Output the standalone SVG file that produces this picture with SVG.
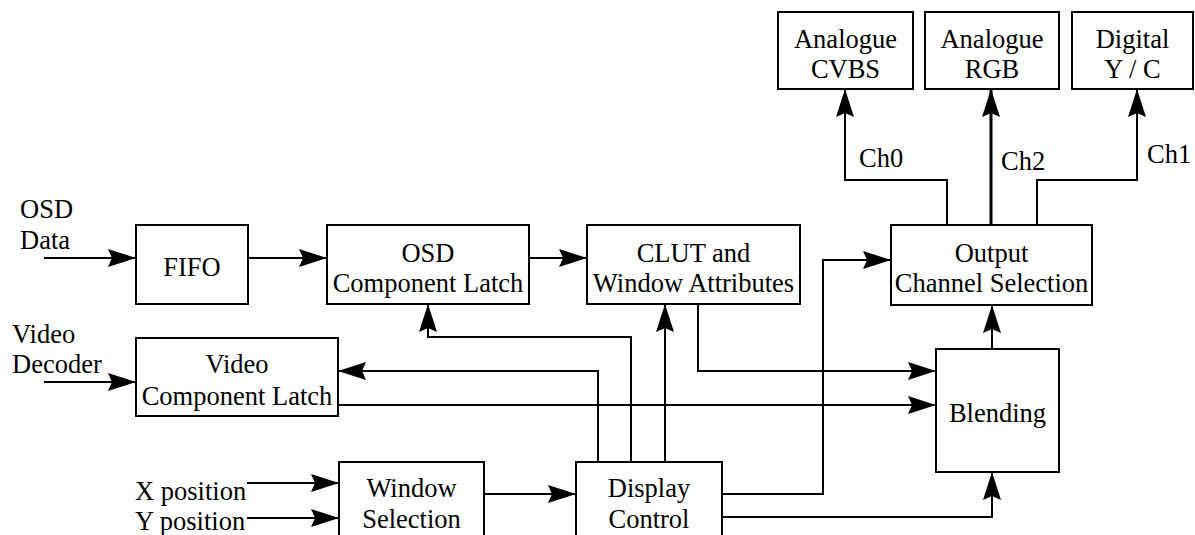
<svg xmlns="http://www.w3.org/2000/svg" width="1195" height="535" viewBox="0 0 1195 535">
  <defs>
    <marker id="arrow" viewBox="-29 -10 29 20" markerWidth="29" markerHeight="20" refX="0" refY="0" orient="auto" markerUnits="userSpaceOnUse">
      <path d="M0,0 L-28,-9 L-24,0 L-28,9 Z" fill="#000"/>
    </marker>
    <style>
      .box { fill: #fff; stroke: #000; stroke-width: 2; }
      .lbl { font-family: "Liberation Serif", "Times New Roman", serif; font-size: 26.5px; fill: #000; }
      .c { text-anchor: middle; }
      .wire { fill: none; stroke: #000; stroke-width: 2; }
      .arr { marker-end: url(#arrow); }
      .thick { stroke-width: 3; }
    </style>
  </defs>
  <rect width="1195" height="535" fill="#fff"/>

  <!-- connectors -->
  <g id="connectors">
    <polyline class="wire arr" points="44,258 136,258"/>
    <polyline class="wire arr" points="248,258 327,258"/>
    <polyline class="wire arr" points="529,258 587,258"/>
    <polyline class="wire arr" points="44,382 136,382"/>
    <polyline class="wire arr" points="598,462 598,371 338,371"/>
    <polyline class="wire arr" points="631,462 631,337 428,337 428,304"/>
    <polyline class="wire arr" points="665,462 665,304"/>
    <polyline class="wire arr" points="698,304 698,371 936,371"/>
    <polyline class="wire arr" points="338,405 936,405"/>
    <polyline class="wire arr" points="722,494 823,494 823,260 891,260"/>
    <polyline class="wire arr" points="722,517 992,517 992,472"/>
    <polyline class="wire arr" points="992,349 992,305"/>
    <polyline class="wire arr" points="247,483 339,483"/>
    <polyline class="wire arr" points="247,518 339,518"/>
    <polyline class="wire arr" points="484,494 576,494"/>
    <polyline class="wire arr" points="947,225 947,180 845,180 845,89"/>
    <polyline class="wire arr thick" points="991,225 991,89"/>
    <polyline class="wire arr" points="1037,225 1037,180 1137,180 1137,89"/>
    <text class="lbl" x="859" y="167">Ch0</text>
    <text class="lbl" x="1001" y="170">Ch2</text>
    <text class="lbl" x="1147" y="163">Ch1</text>
  </g>

  <!-- external inputs -->
  <g id="in-osd">
    <text class="lbl" x="20" y="218">OSD</text>
    <text class="lbl" x="20" y="249">Data</text>
  </g>
  <g id="in-video">
    <text class="lbl" x="12" y="343">Video</text>
    <text class="lbl" x="12" y="373">Decoder</text>
  </g>
  <g id="in-pos">
    <text class="lbl" x="135" y="500">X position</text>
    <text class="lbl" x="135" y="530">Y position</text>
  </g>

  <!-- processing blocks -->
  <g id="fifo">
    <rect class="box" x="136" y="225" width="112" height="79"/>
    <text class="lbl c" x="192" y="276">FIFO</text>
  </g>
  <g id="osd-latch">
    <rect class="box" x="327" y="225" width="202" height="79"/>
    <text class="lbl c" x="428" y="262">OSD</text>
    <text class="lbl c" x="428" y="292">Component Latch</text>
  </g>
  <g id="clut">
    <rect class="box" x="587" y="225" width="213" height="79"/>
    <text class="lbl c" x="693.5" y="262">CLUT and</text>
    <text class="lbl c" x="693.5" y="292">Window Attributes</text>
  </g>
  <g id="output-sel">
    <rect class="box" x="891" y="225" width="201" height="80"/>
    <text class="lbl c" x="991.5" y="262">Output</text>
    <text class="lbl c" x="991.5" y="292">Channel Selection</text>
  </g>
  <g id="video-latch">
    <rect class="box" x="136" y="338" width="202" height="78"/>
    <text class="lbl c" x="237" y="373">Video</text>
    <text class="lbl c" x="237" y="405">Component Latch</text>
  </g>
  <g id="blending">
    <rect class="box" x="936" y="349" width="123" height="123"/>
    <text class="lbl c" x="997.5" y="422">Blending</text>
  </g>
  <g id="window-sel">
    <rect class="box" x="339" y="462" width="145" height="90"/>
    <text class="lbl c" x="411.5" y="497">Window</text>
    <text class="lbl c" x="411.5" y="528">Selection</text>
  </g>
  <g id="display-ctrl">
    <rect class="box" x="576" y="462" width="146" height="90"/>
    <text class="lbl c" x="649" y="497">Display</text>
    <text class="lbl c" x="649" y="528">Control</text>
  </g>

  <!-- output targets -->
  <g id="out-cvbs">
    <rect class="box" x="778" y="12" width="135" height="77"/>
    <text class="lbl c" x="845.5" y="48">Analogue</text>
    <text class="lbl c" x="845.5" y="78">CVBS</text>
  </g>
  <g id="out-rgb">
    <rect class="box" x="925" y="12" width="134" height="77"/>
    <text class="lbl c" x="992" y="48">Analogue</text>
    <text class="lbl c" x="992" y="78">RGB</text>
  </g>
  <g id="out-yc">
    <rect class="box" x="1072" y="12" width="121" height="77"/>
    <text class="lbl c" x="1132.5" y="48">Digital</text>
    <text class="lbl c" x="1132.5" y="78">Y / C</text>
  </g>
</svg>
